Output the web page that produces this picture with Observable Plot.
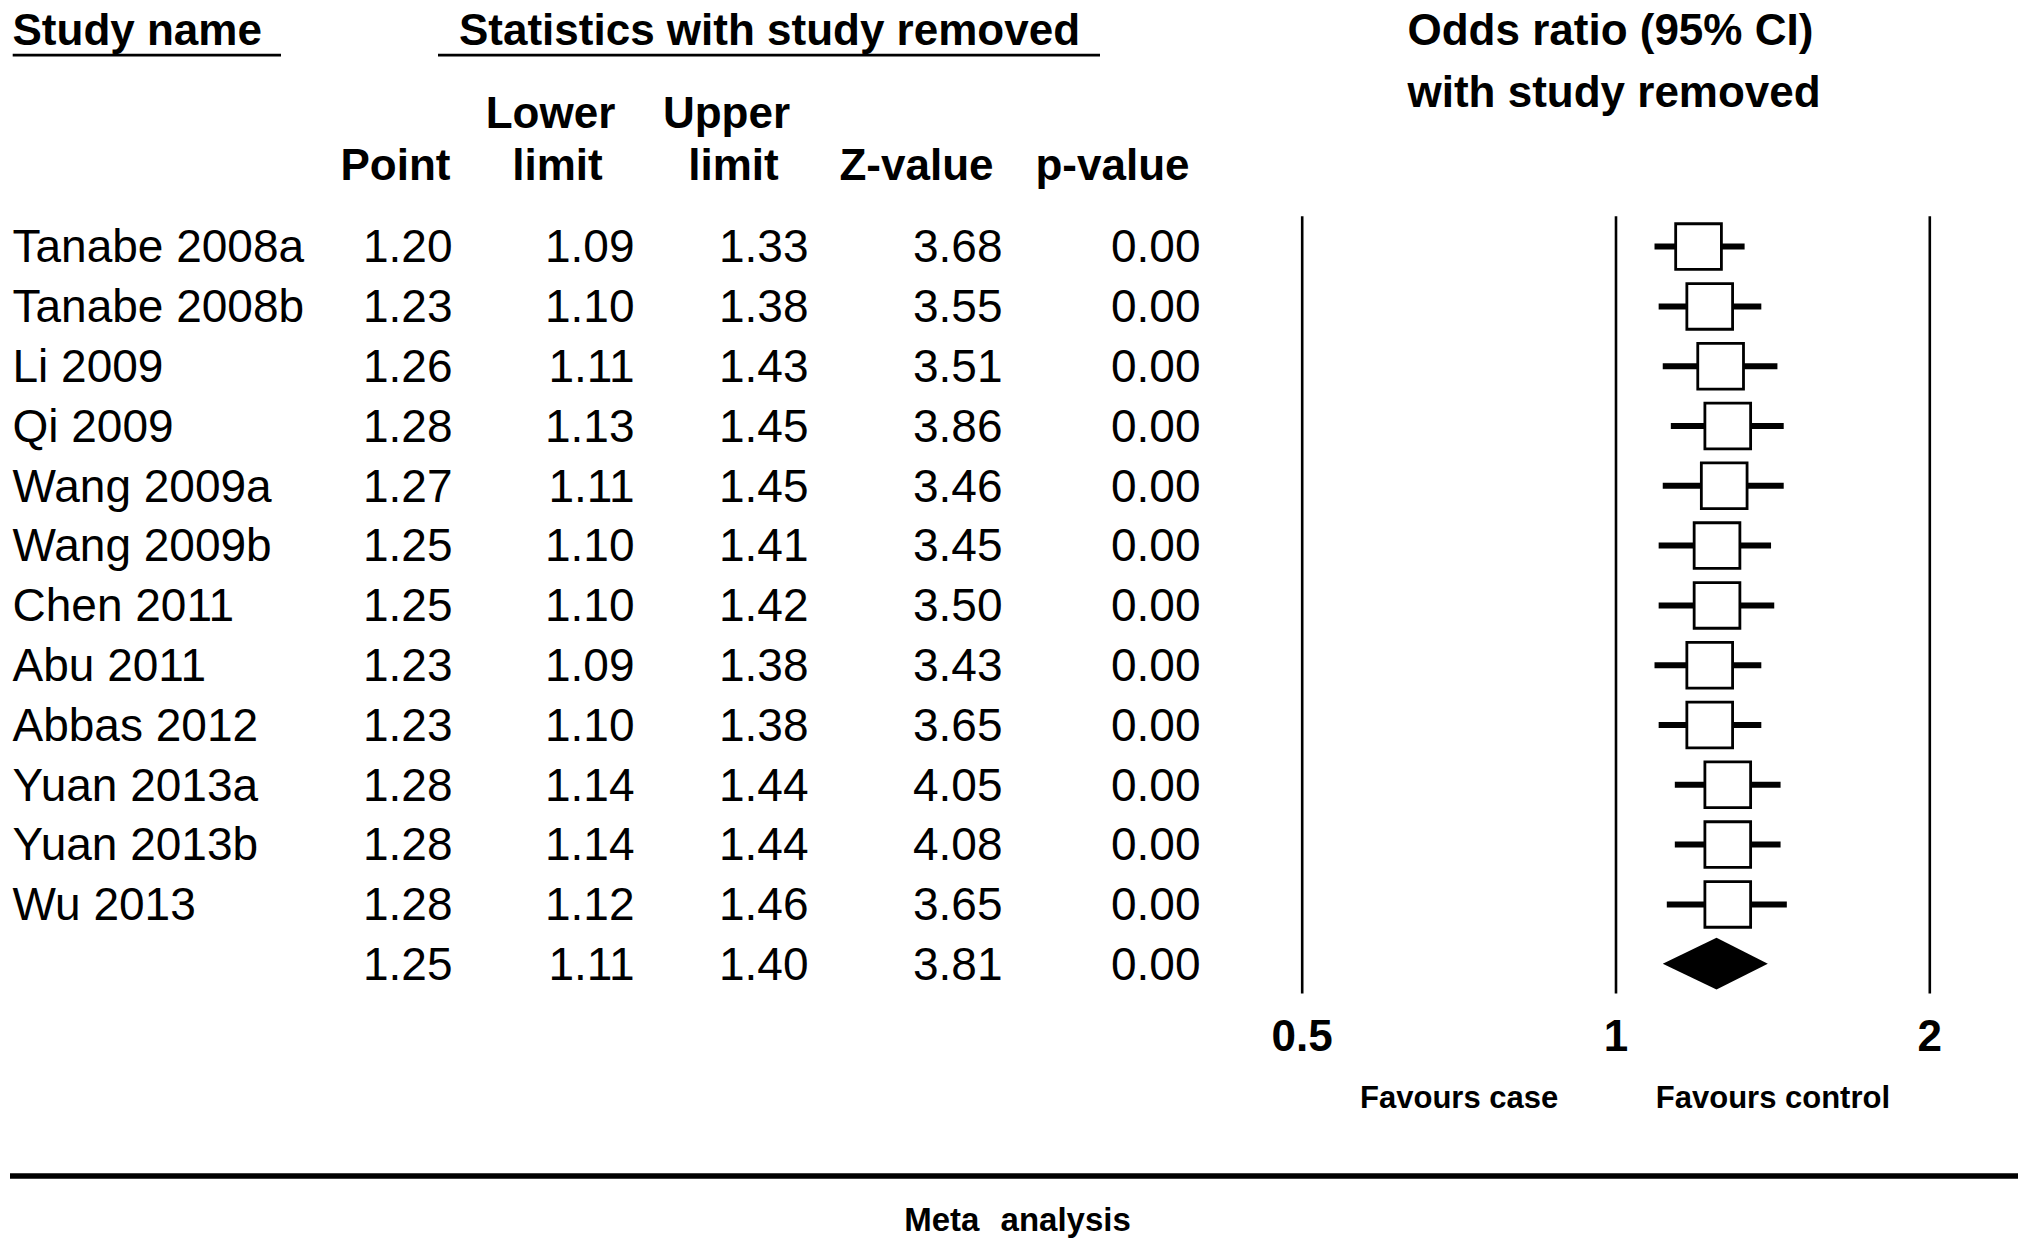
<!DOCTYPE html>
<html>
<head>
<meta charset="utf-8">
<script src="https://cdn.jsdelivr.net/npm/d3@7"></script>
<script src="https://cdn.jsdelivr.net/npm/@observablehq/plot@0.6"></script>
<style>
  html, body { margin: 0; padding: 0; background: #fff; }
  #chart { position: relative; width: 2031px; height: 1251px; overflow: hidden; background: #fff; }
  #chart svg { position: absolute; left: 0; top: 0; }
</style>
</head>
<body>
<div id="chart"></div>
<script>
// ---------------- data ----------------
const studies = ["Tanabe 2008a", "Tanabe 2008b", "Li 2009", "Qi 2009", "Wang 2009a", "Wang 2009b",
  "Chen 2011", "Abu 2011", "Abbas 2012", "Yuan 2013a", "Yuan 2013b", "Wu 2013"];
const pointEst   = [1.20, 1.23, 1.26, 1.28, 1.27, 1.25, 1.25, 1.23, 1.23, 1.28, 1.28, 1.28];
const lowerLimit = [1.09, 1.10, 1.11, 1.13, 1.11, 1.10, 1.10, 1.09, 1.10, 1.14, 1.14, 1.12];
const upperLimit = [1.33, 1.38, 1.43, 1.45, 1.45, 1.41, 1.42, 1.38, 1.38, 1.44, 1.44, 1.46];
const zValues    = [3.68, 3.55, 3.51, 3.86, 3.46, 3.45, 3.50, 3.43, 3.65, 4.05, 4.08, 3.65];
const pValues    = [0.00, 0.00, 0.00, 0.00, 0.00, 0.00, 0.00, 0.00, 0.00, 0.00, 0.00, 0.00];
const overallPoint = 1.25, overallLower = 1.11, overallUpper = 1.40, overallZ = 3.81, overallP = 0.00;
const xTickValues = [0.5, 1, 2];
const favourLabels = ["Favours case", "Favours control"];
const topTitles = ["Study name", "Statistics with study removed", "Odds ratio (95% CI)", "with study removed"];
const columnHeaders = ["Lower", "Upper", "Point", "limit", "limit", "Z-value", "p-value"];
const captionText = "Meta analysis";

// ---------------- layout (pixels) ----------------
const W = 2031, H = 1251;
const FONT = "'Liberation Sans', Arial, Helvetica, sans-serif";
const frame = {top: 216.2, bottom: 257.4, left: 1301.7, right: 101.7};
const nameX = 12;
const colRight = {point: 452, lower: 634, upper: 808, z: 1002, p: 1200};
const titlePos = [[12, 44, "start"], [769, 44, "middle"], [1407, 44, "start"], [1407, 106, "start"]];
const headerPos = [[550, 127], [726, 127], [395, 179], [557, 179], [733, 179], [916, 179], [1112, 179]];
const underlines = [{x1: 12.7, x2: 281, y: 54.7}, {x1: 438, x2: 1100, y: 54.7}];

// ---------------- tables ----------------
const rows = studies.map((s, i) => ({
  key: s, name: s, point: pointEst[i], lower: lowerLimit[i], upper: upperLimit[i], z: zValues[i], p: pValues[i]
}));
const overall = {key: "Overall", name: "", point: overallPoint, lower: overallLower, upper: overallUpper, z: overallZ, p: overallP};
const allRows = [...rows, overall];
const rowKeys = allRows.map(d => d.key);

// ---------------- forest layer ----------------
const diamondMark = (index, scales) => {
  const {x, y} = scales;
  const bw = y.bandwidth ? y.bandwidth() : 0;
  const cy = y(overall.key) + bw / 2;
  const h = bw * 0.433;
  const pts = [[x(overall.lower), cy], [x(overall.point), cy - h], [x(overall.upper), cy], [x(overall.point), cy + h]];
  return d3.create("svg:path")
    .attr("d", "M" + pts.map(p => p.join(",")).join("L") + "Z")
    .attr("fill", "black")
    .node();
};

const forest = Plot.plot({
  width: W, height: H,
  marginTop: frame.top, marginBottom: frame.bottom, marginLeft: frame.left, marginRight: frame.right,
  style: {fontFamily: FONT, fontSize: "44px", fontWeight: "bold", color: "black", background: "transparent"},
  x: {type: "log", domain: [0.5, 2]},
  y: {type: "band", domain: rowKeys, padding: 0, round: false, axis: null},
  marks: [
    Plot.ruleX(xTickValues, {stroke: "black", strokeWidth: 2.6}),
    Plot.ruleY(rows, {y: "key", x1: "lower", x2: "upper", stroke: "black", strokeWidth: 6}),
    Plot.dot(rows, {x: "point", y: "key", symbol: "square", r: 25.8, fill: "white", stroke: "black", strokeWidth: 2.8}),
    diamondMark,
    Plot.axisX(xTickValues, {tickSize: 0, tickPadding: 26, tickFormat: d => String(d), fontSize: 44, fontWeight: "bold", label: null}),
    Plot.text(favourLabels, {
      x: (d, i) => Math.sqrt(xTickValues[i] * xTickValues[i + 1]), text: d => d,
      frameAnchor: "bottom", lineAnchor: "bottom", dy: 114, fontSize: 31, fontWeight: "bold"
    })
  ]
});

// ---------------- table layer ----------------
const numericCols = ["point", "lower", "upper", "z", "p"];
const table = Plot.plot({
  width: W, height: H,
  marginTop: frame.top, marginBottom: frame.bottom, marginLeft: 0, marginRight: 0,
  style: {fontFamily: FONT, fontSize: "46px", color: "black", background: "transparent"},
  x: {type: "identity", axis: null},
  y: {type: "band", domain: rowKeys, padding: 0, round: false, axis: null},
  marks: [
    Plot.text(allRows, {x: nameX, y: "key", text: "name", textAnchor: "start", dy: 1, fontSize: 46}),
    ...numericCols.map(k => Plot.text(allRows, {
      x: colRight[k], y: "key", text: d => d[k].toFixed(2), textAnchor: "end", dy: 1, fontSize: 46
    }))
  ]
});

// ---------------- header / footer layer ----------------
const header = Plot.plot({
  width: W, height: H, margin: 0,
  style: {fontFamily: FONT, fontSize: "44px", fontWeight: "bold", color: "black", background: "transparent"},
  x: {type: "identity", axis: null},
  y: {type: "identity", axis: null},
  marks: [
    Plot.text(topTitles.filter((d, i) => titlePos[i][2] === "start"), {
      x: d => titlePos[topTitles.indexOf(d)][0], y: d => titlePos[topTitles.indexOf(d)][1],
      text: d => d, textAnchor: "start", lineAnchor: "bottom", fontSize: 44, fontWeight: "bold"
    }),
    Plot.text(topTitles.filter((d, i) => titlePos[i][2] === "middle"), {
      x: d => titlePos[topTitles.indexOf(d)][0], y: d => titlePos[topTitles.indexOf(d)][1],
      text: d => d, textAnchor: "middle", lineAnchor: "bottom", fontSize: 44, fontWeight: "bold"
    }),
    Plot.text(columnHeaders, {
      x: (d, i) => headerPos[i][0], y: (d, i) => headerPos[i][1],
      text: d => d, textAnchor: "middle", lineAnchor: "bottom", fontSize: 44, fontWeight: "bold"
    }),
    Plot.ruleY(underlines, {y: "y", x1: "x1", x2: "x2", stroke: "black", strokeWidth: 2.7}),
    Plot.ruleY([1175.5], {x1: 10, x2: 2018, stroke: "black", strokeWidth: 5.7}),
    Plot.text([captionText], {x: 1017, y: 1230, text: d => d, textAnchor: "middle", lineAnchor: "bottom", fontSize: 33, fontWeight: "bold"})
  ]
});
d3.select(header).selectAll("text").filter(function() { return this.textContent === captionText; })
  .style("word-spacing", "12px");

const chart = document.getElementById("chart");
chart.appendChild(forest);
chart.appendChild(table);
chart.appendChild(header);
</script>
</body>
</html>
